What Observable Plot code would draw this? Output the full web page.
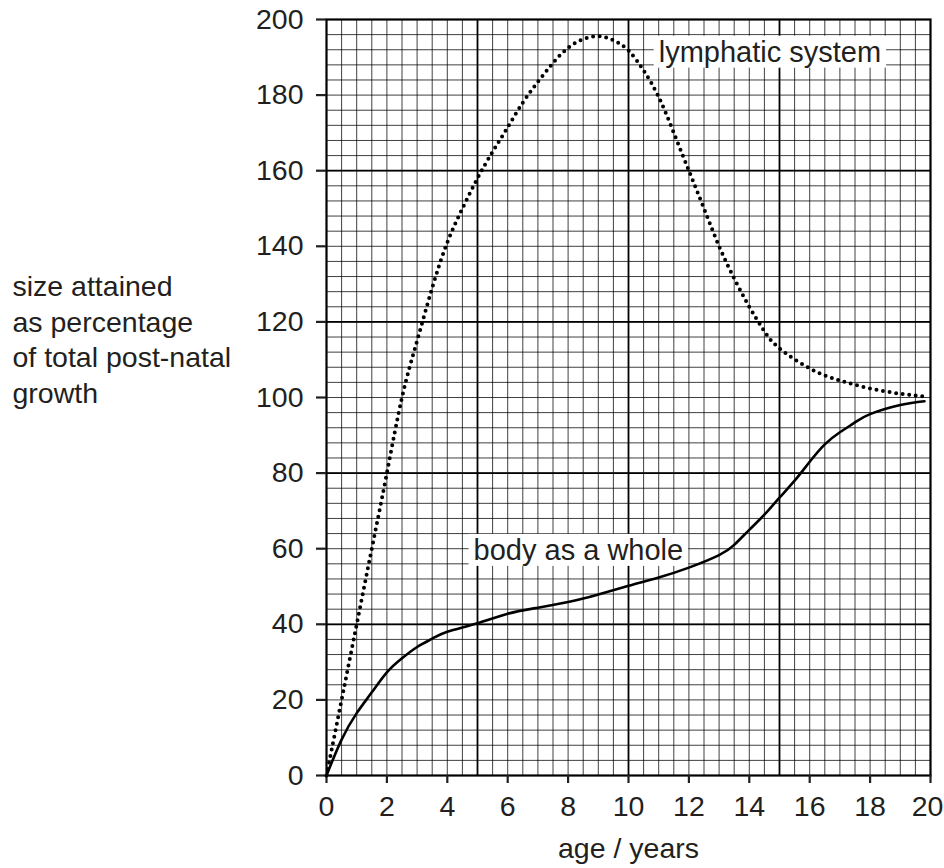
<!DOCTYPE html>
<html><head><meta charset="utf-8">
<script src="https://cdn.jsdelivr.net/npm/d3@7"></script>
<script src="https://cdn.jsdelivr.net/npm/@observablehq/plot@0.6"></script>
<style>
body{margin:0;background:#fff;}
svg{font-family:"Liberation Sans",Arial,Helvetica,sans-serif;}
</style>
</head><body><div id="chart"></div>
<script>
// Lymphatic system (dotted curve)
const lymphAge  = [0, 0.5, 1, 1.5, 2, 2.5, 3, 3.5, 4, 4.5, 5, 5.5, 6, 6.5, 7, 7.5, 8, 8.5, 9, 9.5, 10, 10.5, 11, 11.5, 12, 12.5, 13, 13.5, 14, 14.5, 15, 16, 17, 18, 19, 19.8];
const lymphSize = [0, 20, 40, 60, 80, 100, 115, 129, 141, 150, 158, 165, 171.5, 178, 183.5, 188.5, 192.5, 194.8, 195.6, 194.5, 191.8, 186.5, 179.5, 170, 160, 150, 140, 131.5, 124, 117.5, 113, 107.7, 104.5, 102.4, 101, 100.3];
// Body as a whole (solid curve)
const bodyAge  = [0, 0.5, 1, 1.5, 2, 2.5, 3, 3.5, 4, 5, 6, 7, 8, 8.5, 9, 10, 11, 12, 13, 13.5, 14, 14.5, 15, 15.5, 16, 16.5, 17, 17.5, 18, 19, 19.8];
const bodySize = [0, 9.5, 16.5, 22, 27.3, 31, 34, 36.2, 38, 40.3, 42.8, 44.4, 45.9, 46.8, 47.9, 50.2, 52.4, 55, 58.3, 61, 65, 69, 73.5, 78, 83, 87.6, 90.8, 93.4, 95.6, 98, 99];

const xTicks = [0, 2, 4, 6, 8, 10, 12, 14, 16, 18, 20];
const yTicks = [0, 20, 40, 60, 80, 100, 120, 140, 160, 180, 200];
const seriesLabels = ["lymphatic system", "body as a whole"];
const yTitle = "size attained\nas percentage\nof total post-natal\ngrowth";
const xTitle = "age / years";

const lymph = lymphAge.map((a, i) => ({age: a, size: lymphSize[i]}));
const body = bodyAge.map((a, i) => ({age: a, size: bodySize[i]}));

const minorX = d3.range(0, 20.001, 0.5);
const minorY = d3.range(0, 200.001, 4);
const majorX = d3.range(5, 20, 5);
const majorY = d3.range(40, 200, 40);

const ink = "#231f20";
const chart = Plot.plot({
  width: 944, height: 868,
  marginLeft: 326, marginRight: 14, marginTop: 19, marginBottom: 93,
  style: {fontFamily: '"Liberation Sans", Arial, sans-serif', fontSize: "28px", color: ink, background: "white", overflow: "visible"},
  x: {domain: [0, 20]},
  y: {domain: [0, 200]},
  marks: [
    Plot.ruleX(minorX, {stroke: "#000", strokeWidth: 1, strokeOpacity: 0.75}),
    Plot.ruleY(minorY, {stroke: "#000", strokeWidth: 1, strokeOpacity: 0.75}),
    Plot.ruleX(majorX, {stroke: "#000", strokeWidth: 1.8}),
    Plot.ruleY(majorY, {stroke: "#000", strokeWidth: 1.8}),
    Plot.frame({stroke: "#000", strokeWidth: 2.2}),
    Plot.axisY(yTicks, {tickSize: 10, tickPadding: 13, strokeWidth: 2.2, label: null, fontSize: 28.5, fill: ink}),
    Plot.axisX(xTicks, {tickSize: 8, tickPadding: 12, strokeWidth: 2.2, label: null, fontSize: 28.5, fill: ink}),
    Plot.line(body, {x: "age", y: "size", curve: "natural", stroke: "#000", strokeWidth: 2.6}),
    Plot.line(lymph, {x: "age", y: "size", curve: "natural", stroke: "#000", strokeWidth: 4, strokeDasharray: "0 6.6", strokeLinecap: "round"}),
    Plot.text([seriesLabels[0]], {x: 11, y: 191.3, text: d => d, textAnchor: "start", fontSize: 29, fill: ink}),
    Plot.text([seriesLabels[1]], {x: 4.87, y: 59.5, text: d => d, textAnchor: "start", fontSize: 29, fill: ink}),
    Plot.text([yTitle], {frameAnchor: "left", dx: -314, dy: -59.5, text: d => d, textAnchor: "start", lineHeight: 1.246, fontSize: 28.5, fill: ink}),
    Plot.text([xTitle], {frameAnchor: "bottom", dy: 82, text: d => d, fontSize: 28.5, fill: ink})
  ]
});
document.getElementById("chart").appendChild(chart);

// white boxes behind the series labels
chart.querySelectorAll("text").forEach(t => {
  if (!seriesLabels.includes(t.textContent)) return;
  const b = t.getBBox();
  const r = document.createElementNS("http://www.w3.org/2000/svg", "rect");
  r.setAttribute("x", b.x - 5);
  r.setAttribute("y", b.y);
  r.setAttribute("width", b.width + 10);
  r.setAttribute("height", b.height);
  r.setAttribute("fill", "white");
  if (t.getAttribute("transform")) r.setAttribute("transform", t.getAttribute("transform"));
  t.parentNode.insertBefore(r, t);
});

// nudge the last x tick label so it stays inside the picture, as in the reference
const xLabels = chart.querySelectorAll('g[aria-label="x-axis tick label"] text');
if (xLabels.length) xLabels[xLabels.length - 1].setAttribute("dx", "-3");
</script>
</body></html>
